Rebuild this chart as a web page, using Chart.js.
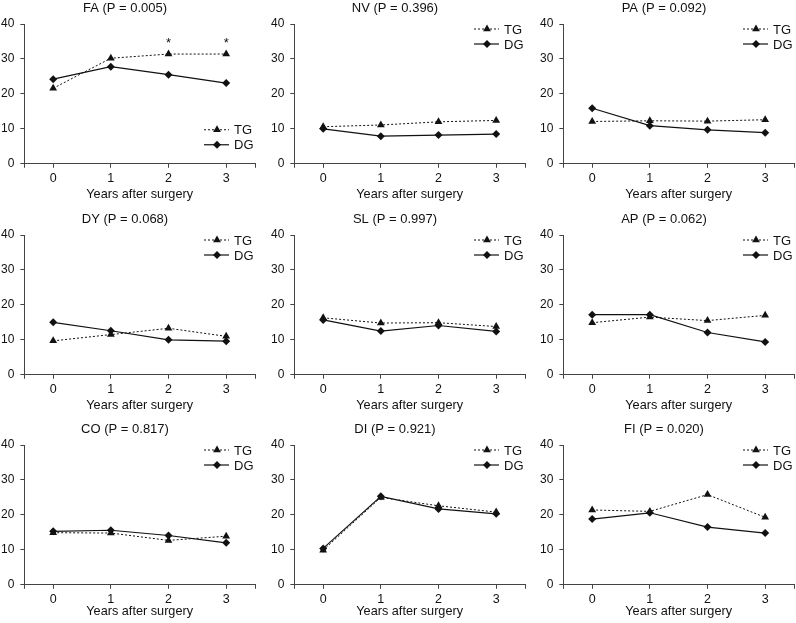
<!DOCTYPE html>
<html>
<head>
<meta charset="utf-8">
<script src="https://cdn.jsdelivr.net/npm/chart.js@4/dist/chart.umd.min.js"></script>
<style>
  html, body { margin: 0; padding: 0; background: #fff; overflow: hidden; }
  body { width: 796px; height: 623px; position: relative; }
  .cell { position: absolute; width: 265px; height: 211px; }
</style>
</head>
<body>
<script>
const years = [0, 1, 2, 3]
const panelNames = ['FA', 'NV', 'PA', 'DY', 'SL', 'AP', 'CO', 'DI', 'FI']
const pValues = ['0.005', '0.396', '0.092', '0.068', '0.997', '0.062', '0.817', '0.921', '0.020']

const tgFA = [21.6, 30.2, 31.4, 31.4]
const dgFA = [24.2, 27.8, 25.5, 23.1]
const tgNV = [10.6, 11.1, 12.0, 12.4]
const dgNV = [10.0, 7.9, 8.2, 8.5]
const tgPA = [12.1, 12.3, 12.2, 12.6]
const dgPA = [15.9, 10.9, 9.7, 8.9]
const tgDY = [9.7, 11.5, 13.3, 11.0]
const dgDY = [15.0, 12.6, 10.0, 9.6]
const tgSL = [16.3, 14.8, 14.9, 13.8]
const dgSL = [15.7, 12.5, 14.1, 12.4]
const tgAP = [14.9, 16.5, 15.5, 17.0]
const dgAP = [17.2, 17.2, 12.1, 9.4]
const tgCO = [14.9, 14.8, 12.7, 13.9]
const dgCO = [15.3, 15.6, 14.1, 12.0]
const tgDI = [9.9, 25.0, 22.6, 20.8]
const dgDI = [10.4, 25.3, 21.7, 20.3]
const tgFI = [21.4, 21.0, 25.8, 19.3]
const dgFI = [18.8, 20.6, 16.5, 14.8]

// significance marks above TG points (FA only)
const starsFA = ['', '', '*', '*']

const tgSeries = [tgFA, tgNV, tgPA, tgDY, tgSL, tgAP, tgCO, tgDI, tgFI]
const dgSeries = [dgFA, dgNV, dgPA, dgDY, dgSL, dgAP, dgCO, dgDI, dgFI]
const starSeries = [starsFA, null, null, null, null, null, null, null, null]

const colLeft = [-5, 265, 534]
const rowTop = [0, 211, 421]
const axisColor = '#444'
const fontFam = '"Liberation Sans", Arial, sans-serif'

// legend with line + marker, drawn inside the plot area
const innerLegend = {
  id: 'innerLegend',
  afterDraw(chart, args, opts) {
    const ctx = chart.ctx
    const a = chart.chartArea
    const y0 = opts.where === 'bottom' ? a.bottom - 34 : a.top + 5
    ctx.save()
    chart.data.datasets.forEach((ds, i) => {
      const y = y0 + i * 15
      ctx.strokeStyle = ds.borderColor
      ctx.lineWidth = ds.borderWidth
      ctx.setLineDash(ds.borderDash || [])
      ctx.beginPath()
      ctx.moveTo(a.right - 51, y)
      ctx.lineTo(a.right - 26, y)
      ctx.stroke()
      ctx.setLineDash([])
      ctx.fillStyle = ds.pointBackgroundColor
      Chart.helpers.drawPoint(ctx, {
        pointStyle: ds.pointStyle, radius: ds.pointRadius, rotation: 0, borderWidth: 0
      }, a.right - 38, y)
      ctx.fillStyle = '#111'
      ctx.font = '13px ' + fontFam
      ctx.textBaseline = 'middle'
      ctx.textAlign = 'left'
      ctx.fillText(ds.label, a.right - 21, y + 1)
    })
    ctx.restore()
  }
}

// asterisks above points
const starMarks = {
  id: 'starMarks',
  afterDatasetsDraw(chart, args, opts) {
    if (!opts.marks) return
    const meta = chart.getDatasetMeta(0)
    const ctx = chart.ctx
    ctx.save()
    ctx.fillStyle = '#111'
    ctx.font = '13px ' + fontFam
    ctx.textAlign = 'center'
    ctx.textBaseline = 'middle'
    opts.marks.forEach((m, i) => {
      if (!m) return
      const pt = meta.data[i]
      ctx.fillText(m, pt.x, pt.y - 11)
    })
    ctx.restore()
  }
}

panelNames.forEach((name, k) => {
  const row = Math.floor(k / 3)
  const col = k % 3
  const div = document.createElement('div')
  div.className = 'cell'
  div.style.left = colLeft[col] + 'px'
  div.style.top = rowTop[row] + 'px'
  const canvas = document.createElement('canvas')
  div.appendChild(canvas)
  document.body.appendChild(div)

  new Chart(canvas.getContext('2d'), {
    type: 'line',
    data: {
      datasets: [{
        label: 'TG',
        data: years.map((x, i) => ({ x: x, y: tgSeries[k][i] })),
        borderColor: '#111',
        borderWidth: 1,
        borderDash: [2, 2],
        pointStyle: 'triangle',
        pointRadius: 4.5,
        pointBackgroundColor: '#111',
        pointBorderWidth: 0
      }, {
        label: 'DG',
        data: years.map((x, i) => ({ x: x, y: dgSeries[k][i] })),
        borderColor: '#111',
        borderWidth: 1.2,
        pointStyle: 'rectRot',
        pointRadius: 4,
        pointBackgroundColor: '#111',
        pointBorderWidth: 0
      }]
    },
    options: {
      responsive: true,
      maintainAspectRatio: false,
      animation: false,
      layout: { padding: { top: 0, right: 5, bottom: 5, left: 0 } },
      plugins: {
        legend: { display: false },
        tooltip: { enabled: false },
        title: {
          display: true,
          text: name + ' (P = ' + pValues[k] + ')',
          color: '#111',
          font: { family: fontFam, size: 13, weight: 'normal' },
          padding: { top: 1, bottom: 7.4 }
        },
        innerLegend: { where: k === 0 ? 'bottom' : 'top' },
        starMarks: { marks: starSeries[k] }
      },
      scales: {
        x: {
          type: 'linear',
          min: -0.5,
          max: 3.5,
          afterBuildTicks: (scale) => {
            scale.ticks = [-0.5, 0, 1, 2, 3, 3.5].map(v => ({ value: v }))
          },
          ticks: {
            color: '#111',
            font: { family: fontFam, size: 12.5 },
            padding: 3,
            maxRotation: 0,
            autoSkip: false,
            callback: (v) => Number.isInteger(v) ? String(v) : ''
          },
          grid: { drawOnChartArea: false, drawTicks: true, tickLength: 4, color: axisColor },
          border: { display: true, color: axisColor, width: 1 },
          title: {
            display: true,
            text: 'Years after surgery',
            color: '#111',
            font: { family: fontFam, size: 12.7 },
            padding: { top: row === 2 ? -6 : -2, bottom: row === 2 ? 8 : 4 }
          }
        },
        y: {
          min: 0,
          max: 40,
          ticks: {
            stepSize: 10,
            color: '#111',
            font: { family: fontFam, size: 12 },
            padding: 6
          },
          grid: { drawOnChartArea: false, drawTicks: true, tickLength: 4, color: axisColor },
          border: { display: true, color: axisColor, width: 1 }
        }
      }
    },
    plugins: [innerLegend, starMarks]
  })
})
</script>
</body>
</html>
